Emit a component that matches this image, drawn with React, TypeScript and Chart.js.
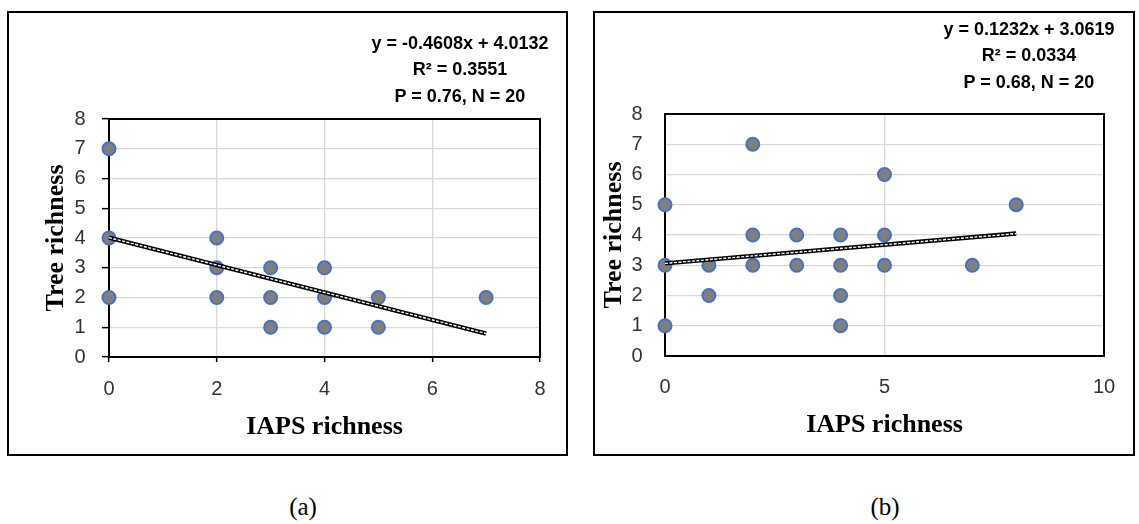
import React, { useEffect, useRef } from 'react';
import { Chart, registerables } from 'chart.js';

Chart.register(...registerables);

// ---------- Data ----------
const panelAX = [0, 0, 0, 2, 2, 2, 3, 3, 3, 4, 4, 4, 5, 5, 7];
const panelAY = [7, 4, 2, 4, 3, 2, 3, 2, 1, 3, 2, 1, 2, 1, 2];
const panelBX = [0, 0, 0, 1, 1, 2, 2, 2, 3, 3, 4, 4, 4, 4, 5, 5, 5, 7, 8];
const panelBY = [5, 3, 1, 3, 2, 7, 4, 3, 4, 3, 4, 3, 2, 1, 6, 4, 3, 3, 5];

const trendA = { slope: -0.4608, intercept: 4.0132, from: 0, to: 7 };
const trendB = { slope: 0.1232, intercept: 3.0619, from: 0, to: 8 };

const statsA = ['y = -0.4608x + 4.0132', 'R² = 0.3551', 'P = 0.76, N = 20'];
const statsB = ['y = 0.1232x + 3.0619', 'R² = 0.0334', 'P = 0.68, N = 20'];

const xTitle = 'IAPS richness';
const yTitle = 'Tree richness';

// ---------- Styling ----------
const TICK_FONT = { family: "'Liberation Sans', Arial, sans-serif", size: 20 };
const TITLE_FONT = { family: "'Liberation Serif', 'Times New Roman', serif", size: 26, weight: 'bold' as const };
const GRID = '#d9d9d9';

const plotBorder = {
  id: 'plotBorder',
  beforeDatasetsDraw(chart: any) {
    const { ctx, chartArea } = chart;
    ctx.save();
    ctx.strokeStyle = '#000';
    ctx.lineWidth = 2;
    ctx.strokeRect(chartArea.left, chartArea.top, chartArea.right - chartArea.left, chartArea.bottom - chartArea.top);
    ctx.restore();
  },
};

type Spec = {
  xs: number[];
  ys: number[];
  trend: { slope: number; intercept: number; from: number; to: number };
  xMax: number;
  xStep: number;
  padding: { left: number; top: number; right: number; bottom: number };
  yAxisWidth: number;
  xAxisHeight: number;
  yTitlePadTop: number;
  xTitlePadBottom: number;
  xTickLen: number;
  yTickLen: number;
  xTickPad: number;
  yTickPad: number;
};

function buildConfig(s: Spec): any {
  const pts = s.xs.map((x, i) => ({ x, y: s.ys[i] }));
  const line = [s.trend.from, s.trend.to].map((x) => ({ x, y: s.trend.slope * x + s.trend.intercept }));
  return {
    type: 'scatter',
    data: {
      datasets: [
        {
          type: 'line',
          data: line,
          borderColor: '#ffffff',
          borderWidth: 1.4,
          borderDash: [3, 1.5],
          pointRadius: 0,
          fill: false,
          order: 0,
          clip: false,
        },
        {
          type: 'line',
          data: line,
          borderColor: '#000000',
          borderWidth: 4.5,
          pointRadius: 0,
          fill: false,
          order: 1,
          clip: false,
        },
        {
          data: pts,
          pointRadius: 6.5,
          pointBorderWidth: 2,
          pointBackgroundColor: '#7f7f7f',
          pointBorderColor: '#4472c4',
          order: 2,
          clip: false,
        },
      ],
    },
    options: {
      animation: false,
      responsive: false,
      events: [],
      layout: { padding: s.padding },
      plugins: { legend: { display: false }, tooltip: { enabled: false } },
      scales: {
        x: {
          type: 'linear',
          min: 0,
          max: s.xMax,
          afterFit: (sc: any) => { sc.height = s.xAxisHeight; },
          ticks: { stepSize: s.xStep, font: TICK_FONT, color: '#333333', padding: s.xTickPad },
          grid: {
            color: GRID,
            lineWidth: 1.3,
            drawTicks: s.xTickLen > 0,
            tickLength: s.xTickLen,
            tickColor: '#000',
            tickWidth: 1.5,
          },
          border: { display: false },
          title: {
            display: true,
            text: xTitle,
            font: TITLE_FONT,
            color: '#000',
            padding: { top: 0, bottom: s.xTitlePadBottom },
          },
        },
        y: {
          type: 'linear',
          min: 0,
          max: 8,
          afterFit: (sc: any) => { sc.width = s.yAxisWidth; },
          ticks: { stepSize: 1, font: TICK_FONT, color: '#333333', padding: s.yTickPad },
          grid: {
            color: GRID,
            lineWidth: 1.3,
            drawTicks: s.yTickLen > 0,
            tickLength: s.yTickLen,
            tickColor: '#000',
            tickWidth: 1.5,
          },
          border: { display: false },
          title: {
            display: true,
            text: yTitle,
            font: TITLE_FONT,
            color: '#000',
            padding: { top: s.yTitlePadTop, bottom: 0 },
          },
        },
      },
    },
    plugins: [plotBorder],
  };
}

const specA: Spec = {
  xs: panelAX,
  ys: panelAY,
  trend: trendA,
  xMax: 8,
  xStep: 2,
  padding: { left: 20, top: 108, right: 28, bottom: 9 },
  yAxisWidth: 82,
  xAxisHeight: 90,
  yTitlePadTop: 13.4,
  xTitlePadBottom: 4.4,
  xTickLen: 5,
  yTickLen: 7,
  xTickPad: 15,
  yTickPad: 16.5,
};

const specB: Spec = {
  xs: panelBX,
  ys: panelBY,
  trend: trendB,
  xMax: 10,
  xStep: 5,
  padding: { left: 2, top: 103, right: 31, bottom: 10 },
  yAxisWidth: 70,
  xAxisHeight: 90,
  yTitlePadTop: 3.4,
  xTitlePadBottom: 5.4,
  xTickLen: 0,
  yTickLen: 0,
  xTickPad: 19,
  yTickPad: 22.5,
};

function Panel(props: { spec: Spec; left: number; top: number; width: number; height: number; stats: string[]; statsX: number; statsY: number }) {
  const ref = useRef<HTMLCanvasElement | null>(null);
  useEffect(() => {
    if (!ref.current) return;
    const chart = new Chart(ref.current, buildConfig(props.spec));
    return () => chart.destroy();
  }, []);
  const { left, top, width, height } = props;
  return (
    <>
      <div
        style={{
          position: 'absolute',
          left,
          top,
          width,
          height,
          border: '2px solid #000',
          boxSizing: 'border-box',
        }}
      />
      <canvas
        ref={ref}
        width={width}
        height={height}
        style={{ position: 'absolute', left, top, width, height }}
      />
      <div
        style={{
          position: 'absolute',
          left: props.statsX - 160,
          top: props.statsY - 13.25,
          width: 320,
          textAlign: 'center',
          fontFamily: "'Liberation Sans', Arial, sans-serif",
          fontWeight: 'bold',
          fontSize: 18,
          lineHeight: '26.5px',
          color: '#000',
          whiteSpace: 'pre',
        }}
      >
        {props.stats.map((t, i) => (
          <div key={i}>{t}</div>
        ))}
      </div>
    </>
  );
}

export default function App() {
  return (
    <div
      style={{
        position: 'fixed',
        left: 0,
        top: 0,
        width: 1139,
        height: 524,
        background: '#fff',
        overflow: 'hidden',
      }}
    >
      <Panel spec={specA} left={7} top={11} width={561} height={445} stats={statsA} statsX={460} statsY={43} />
      <Panel spec={specB} left={593} top={11} width={542} height={445} stats={statsB} statsX={1029} statsY={29} />
      {[
        { t: '(a)', x: 303 },
        { t: '(b)', x: 885 },
      ].map((c) => (
        <div
          key={c.t}
          style={{
            position: 'absolute',
            left: c.x - 40,
            top: 507 - 15,
            width: 80,
            textAlign: 'center',
            fontFamily: "'Liberation Serif', 'Times New Roman', serif",
            fontSize: 25,
            lineHeight: '30px',
            color: '#000',
          }}
        >
          {c.t}
        </div>
      ))}
    </div>
  );
}
